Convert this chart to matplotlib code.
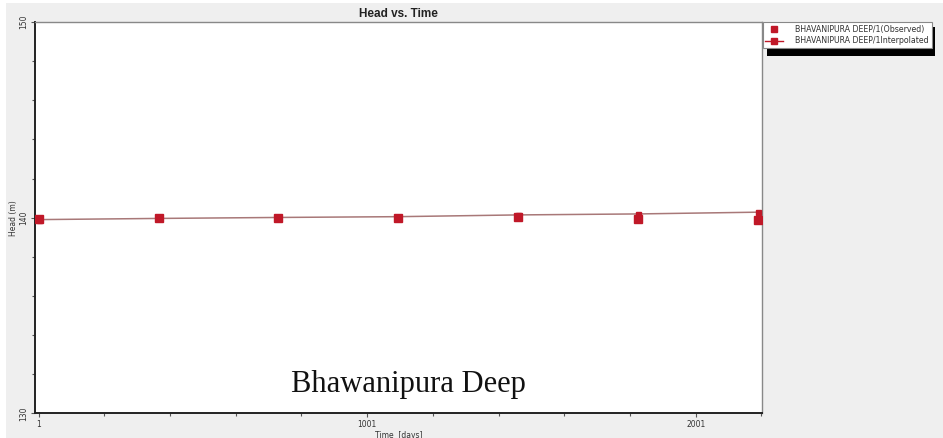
import matplotlib
matplotlib.use("Agg")
import matplotlib.pyplot as plt
from matplotlib.patches import Rectangle
from matplotlib.lines import Line2D
from matplotlib.ticker import MultipleLocator, FixedLocator

# ---- data ----
time_days = [1, 366, 731, 1096, 1461, 1826, 2191]
head_observed = [139.93, 140.00, 140.00, 140.00, 140.02, 139.92, 139.87]
head_interpolated = [139.90, 139.96, 140.01, 140.05, 140.14, 140.19, 140.28]
x_ticks = [1, 1001, 2001]
y_ticks = [130, 140, 150]
title = "Head vs. Time"
xlabel = "Time  [days]"
ylabel = "Head (m)"
label_obs = "BHAVANIPURA DEEP/1(Observed)"
label_int = "BHAVANIPURA DEEP/1Interpolated"
annotation = "Bhawanipura Deep"

W, H = 943, 438
fig = plt.figure(figsize=(W / 100, H / 100), dpi=100)
fig.patch.set_facecolor("white")

def fx(px):
    return px / W

def fy(py):
    return 1 - py / H

# gray panel background
fig.patches.append(Rectangle((fx(6), 0), 1 - fx(6), fy(3), transform=fig.transFigure,
                             facecolor="#efefef", edgecolor="none", zorder=-5))

ax = fig.add_axes([fx(35), fy(413.3), fx(762) - fx(35), fy(22) - fy(413.3)])
ax.set_zorder(0)
ax.set_facecolor("white")

red = "#c01828"
line_col = "#a87878"

ax.plot(time_days, head_interpolated, color=line_col, lw=1.1, zorder=2)
ax.plot(time_days, head_observed, ls="none", marker="s", ms=5.8, color=red,
        mec=red, zorder=3)
ax.plot(time_days, head_interpolated, ls="none", marker="s", ms=3.6, color=red,
        mec=red, zorder=4)

ax.set_xlim(-10, 2203)
ax.set_ylim(130, 150)

ax.xaxis.set_major_locator(FixedLocator(x_ticks))
ax.xaxis.set_minor_locator(MultipleLocator(200, offset=1))
ax.yaxis.set_major_locator(FixedLocator(y_ticks))
ax.yaxis.set_minor_locator(MultipleLocator(2))

ax.tick_params(axis="both", which="both", direction="out", colors="#555555",
               labelcolor="#333333", labelsize=5.5, width=0.8)
ax.tick_params(axis="both", which="major", length=3, pad=2)
ax.tick_params(axis="both", which="minor", length=2)
for lab in ax.get_yticklabels():
    lab.set_rotation(90)
    lab.set_va("center")

for s in ["left", "bottom"]:
    ax.spines[s].set_color("#222222")
    ax.spines[s].set_linewidth(1.4)
for s in ["top", "right"]:
    ax.spines[s].set_color("#888888")
    ax.spines[s].set_linewidth(1.0)

ax.set_xlabel(xlabel, fontsize=5.5, color="#333333", labelpad=1)
ax.set_ylabel(ylabel, fontsize=5.5, color="#333333", labelpad=0.5)

fig.text(fx(398.5), fy(14), title, ha="center", va="center", fontsize=8.5,
         fontweight="bold", family="Liberation Sans", color="#222222")

ax.text(0.513, 0.054, annotation, transform=ax.transAxes, ha="center", va="baseline",
        fontsize=22, family="Liberation Serif", color="#111111")

# legend shadow
fig.patches.append(Rectangle((fx(767), fy(56)), fx(935) - fx(767), fy(27) - fy(56),
                             transform=fig.transFigure, facecolor="black",
                             edgecolor="none", zorder=1))

handles = [
    Line2D([], [], ls="none", marker="s", ms=4.5, color=red),
    Line2D([], [], color=red, lw=1.0, marker="s", ms=4.5),
]
leg = fig.legend(handles, [label_obs, label_int], loc="upper left",
                 bbox_to_anchor=(fx(762.7), fy(22.3)), bbox_transform=fig.transFigure,
                 fontsize=5.7, frameon=True, fancybox=False, borderpad=0.35,
                 labelspacing=0.3, handlelength=2.2, handletextpad=1.55,
                 borderaxespad=0)
leg.get_frame().set_edgecolor("#888888")
leg.get_frame().set_linewidth(0.8)
leg.get_frame().set_facecolor("white")
leg.get_frame().set_alpha(1)
leg.set_zorder(5)
for t in leg.get_texts():
    t.set_color("#333333")

fig.savefig("out.png", dpi=100, facecolor=fig.get_facecolor())
